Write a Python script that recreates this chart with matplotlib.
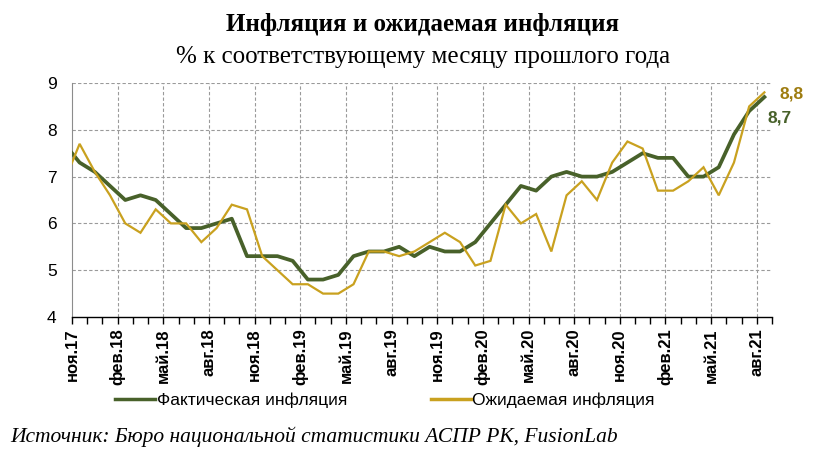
import numpy as np
import matplotlib
matplotlib.use("Agg")
import matplotlib.pyplot as plt

# Monthly data, Oct 2017 .. Aug 2021 (Oct 2017 lies just left of the axis and is clipped)
months = ["окт.17", "ноя.17", "дек.17",
          "янв.18", "фев.18", "мар.18", "апр.18", "май.18", "июн.18",
          "июл.18", "авг.18", "сен.18", "окт.18", "ноя.18", "дек.18",
          "янв.19", "фев.19", "мар.19", "апр.19", "май.19", "июн.19",
          "июл.19", "авг.19", "сен.19", "окт.19", "ноя.19", "дек.19",
          "янв.20", "фев.20", "мар.20", "апр.20", "май.20", "июн.20",
          "июл.20", "авг.20", "сен.20", "окт.20", "ноя.20", "дек.20",
          "янв.21", "фев.21", "мар.21", "апр.21", "май.21", "июн.21",
          "июл.21", "авг.21"]

actual = [7.7, 7.3, 7.1,
          6.8, 6.5, 6.6, 6.5, 6.2, 5.9,
          5.9, 6.0, 6.1, 5.3, 5.3, 5.3,
          5.2, 4.8, 4.8, 4.9, 5.3, 5.4,
          5.4, 5.5, 5.3, 5.5, 5.4, 5.4,
          5.6, 6.0, 6.4, 6.8, 6.7, 7.0,
          7.1, 7.0, 7.0, 7.1, 7.3, 7.5,
          7.4, 7.4, 7.0, 7.0, 7.2, 7.9,
          8.4, 8.7]

expected = [6.9, 7.7, 7.1,
            6.6, 6.0, 5.8, 6.3, 6.0, 6.0,
            5.6, 5.9, 6.4, 6.3, 5.3, 5.0,
            4.7, 4.7, 4.5, 4.5, 4.7, 5.4,
            5.4, 5.3, 5.4, 5.6, 5.8, 5.6,
            5.1, 5.2, 6.4, 6.0, 6.2, 5.4,
            6.6, 6.9, 6.5, 7.3, 7.75, 7.6,
            6.7, 6.7, 6.9, 7.2, 6.6, 7.3,
            8.5, 8.8]

green = "#48612a"
gold = "#c9a11f"
gold_text = "#9e7c10"

# month boundaries are the tick positions, values sit mid-month
x = np.arange(len(months)) - 0.5
n_ticks = len(months)  # tick positions 0..46
tick_pos = np.arange(n_ticks)
label_pos = np.arange(0, n_ticks - 1, 3)
label_text = [months[i + 1] for i in label_pos]

fig = plt.figure(figsize=(8.16, 4.55), dpi=100)
ax = fig.add_axes([72 / 816, 1 - 317 / 455, 700 / 816, 234 / 455])

ax.plot(x, actual, color=green, lw=2.7, solid_joinstyle="round",
        label="Фактическая инфляция", zorder=3)
ax.plot(x, expected, color=gold, lw=1.6, solid_joinstyle="miter",
        label="Ожидаемая инфляция", zorder=4)

ax.set_xlim(0, n_ticks - 1)
ax.set_ylim(4, 9)
ax.set_yticks(range(4, 10))
ax.set_yticklabels([str(v) for v in range(4, 10)], family="Liberation Sans", fontsize=12.5)
ax.yaxis.set_tick_params(length=0, pad=11)

ax.set_xticks(tick_pos, minor=True)
ax.set_xticks(label_pos)
ax.set_xticklabels(label_text, rotation=90, family="Liberation Sans",
                   fontsize=12, fontweight="bold")
ax.tick_params(axis="x", which="both", direction="out", length=5, width=1,
               color="black", pad=3)

# dashed grid
for v in range(5, 10):
    ax.axhline(v, color="#9a9a9a", lw=0.8, ls=(0, (3, 2)), zorder=1)
for p in label_pos[1:]:
    ax.axvline(p, color="#9a9a9a", lw=0.8, ls=(0, (3, 2)), zorder=1)

for s in ["top", "right"]:
    ax.spines[s].set_visible(False)
ax.spines["left"].set_color("#8c8c8c")
ax.spines["bottom"].set_color("black")
ax.spines["bottom"].set_linewidth(1.0)

# end labels
ax.annotate("8,8", xy=(x[-1], expected[-1]), xytext=(11, -1), textcoords="offset points",
            color=gold_text, fontsize=12.5, fontweight="bold", family="Liberation Sans",
            va="center", ha="left", annotation_clip=False)
ax.annotate("8,7", xy=(x[-1], actual[-1]), xytext=(2, -15), textcoords="offset points",
            color=green, fontsize=12.5, fontweight="bold", family="Liberation Sans",
            va="center", ha="left", annotation_clip=False)

fig.text(0.518, 1 - 24 / 455, "Инфляция и ожидаемая инфляция", ha="center", va="center",
         family="Liberation Serif", fontweight="bold", fontsize=18)
fig.text(0.518, 1 - 57 / 455, "% к соответствующему месяцу прошлого года", ha="center",
         va="center", family="Liberation Serif", fontsize=18)

leg = fig.legend(loc="center", bbox_to_anchor=(0.472, 1 - 400 / 455), ncol=2, frameon=False,
                 prop={"family": "Liberation Sans", "size": 12.5}, handlelength=2.3,
                 handletextpad=0.1, columnspacing=4.8)
for h in leg.get_lines():
    h.set_linewidth(2.5)

fig.text(10 / 816, 1 - 437 / 455, "Источник: Бюро национальной статистики АСПР РК, FusionLab",
         ha="left", va="center", family="Liberation Serif", style="italic", fontsize=15.5)

fig.savefig("out.png", dpi=100)
